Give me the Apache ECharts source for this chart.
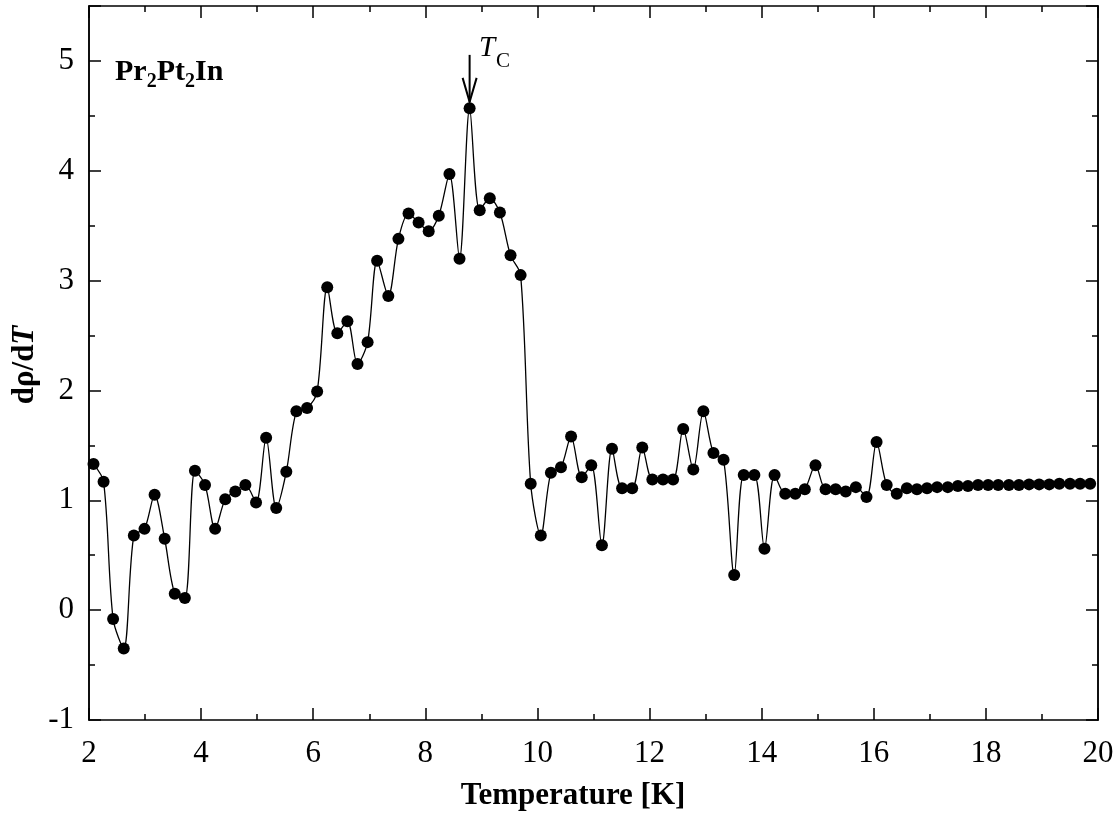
<!DOCTYPE html>
<html><head><meta charset="utf-8">
<script src="https://cdn.jsdelivr.net/npm/echarts@6/dist/echarts.min.js"></script>
<style>html,body{margin:0;padding:0;background:#fff}#c{width:1118px;height:825px}</style>
</head><body><div id="c"></div><script>
const temperature = [2.08,2.26,2.43,2.62,2.80,2.99,3.17,3.35,3.53,3.71,
  3.89,4.07,4.25,4.43,4.61,4.79,4.98,5.16,5.34,5.52,
  5.70,5.89,6.07,6.25,6.43,6.61,6.79,6.97,7.14,7.34,
  7.52,7.70,7.88,8.06,8.24,8.43,8.61,8.79,8.97,9.15,
  9.33,9.52,9.70,9.88,10.06,10.24,10.42,10.60,10.79,10.96,
  11.15,11.33,11.51,11.69,11.87,12.05,12.24,12.42,12.60,12.78,
  12.96,13.14,13.32,13.51,13.68,13.87,14.05,14.23,14.42,14.60,
  14.77,14.96,15.14,15.32,15.50,15.68,15.87,16.05,16.23,16.41,
  16.59,16.77,16.95,17.13,17.32,17.50,17.68,17.86,18.04,18.22,
  18.41,18.59,18.77,18.95,19.13,19.31,19.50,19.68,19.86];
const dRhoDT = [1.33,1.17,-0.08,-0.35,0.68,0.74,1.05,0.65,0.15,0.11,
  1.27,1.14,0.74,1.01,1.08,1.14,0.98,1.57,0.93,1.26,
  1.81,1.84,1.99,2.94,2.52,2.63,2.24,2.44,3.18,2.86,
  3.38,3.61,3.53,3.45,3.59,3.97,3.20,4.57,3.64,3.75,
  3.62,3.23,3.05,1.15,0.68,1.25,1.30,1.58,1.21,1.32,
  0.59,1.47,1.11,1.11,1.48,1.19,1.19,1.19,1.65,1.28,
  1.81,1.43,1.37,0.32,1.23,1.23,0.56,1.23,1.06,1.06,
  1.10,1.32,1.10,1.10,1.08,1.12,1.03,1.53,1.14,1.06,
  1.11,1.10,1.11,1.12,1.12,1.13,1.13,1.14,1.14,1.14,
  1.14,1.14,1.145,1.145,1.145,1.15,1.15,1.15,1.15];
// Tc arrow annotation: [temperature, arrow top, arrow tip]
const tcArrow = [[8.79, 5.055, 4.627]];

const FONT = '"Liberation Serif","Times New Roman",Times,serif';
const points = temperature.map((t, i) => [t, dRhoDT[i]]);
const axLine = {show: true, onZero: false, lineStyle: {color: '#000', width: 1.5}};

function xAx(pos, labels) {
  return {type: 'value', min: 2, max: 20, interval: 2, position: pos,
    axisLine: axLine,
    axisTick: {show: true, inside: true, length: 12, lineStyle: {color: '#000', width: 1.5}},
    minorTick: {show: true, splitNumber: 2, length: 6, lineStyle: {color: '#000', width: 1.5}},
    axisLabel: {show: labels, fontFamily: FONT, fontSize: 31, color: '#000', margin: 18},
    splitLine: {show: false}, minorSplitLine: {show: false}};
}
function yMajor(pos, labels) {
  return {type: 'value', min: -1, max: 5.5, interval: 1, position: pos, offset: 0,
    axisLine: axLine,
    axisTick: {show: true, inside: true, length: 12, lineStyle: {color: '#000', width: 1.5}},
    axisLabel: {show: labels, fontFamily: FONT, fontSize: 31, color: '#000', margin: 15,
      formatter: v => (Number.isInteger(v) ? String(v) : '')},
    splitLine: {show: false}};
}
function yMinor(pos) {
  return {type: 'value', min: -1, max: 5.5, interval: 0.5, position: pos, offset: 0,
    axisLine: axLine,
    axisTick: {show: true, inside: true, length: 6, lineStyle: {color: '#000', width: 1.5}},
    axisLabel: {show: false}, splitLine: {show: false}};
}

const chart = echarts.init(document.getElementById('c'));
chart.setOption({
  animation: false,
  backgroundColor: '#fff',
  grid: {left: 89, right: 20, top: 6, bottom: 105},
  xAxis: [xAx('bottom', true), xAx('top', false)],
  yAxis: [yMajor('left', true), yMinor('left'), yMajor('right', false), yMinor('right')],
  series: [
    {type: 'line', data: points, xAxisIndex: 0, yAxisIndex: 0,
      smooth: 0.3, symbol: 'circle', symbolSize: 12, showAllSymbol: true,
      lineStyle: {color: '#000', width: 1.3}, itemStyle: {color: '#000'}, z: 3},
    {type: 'custom', data: tcArrow, xAxisIndex: 0, yAxisIndex: 0, z: 4,
      renderItem: function (params, api) {
        const top = api.coord([api.value(0), api.value(1)]);
        const tip = api.coord([api.value(0), api.value(2)]);
        return {type: 'group', children: [
          {type: 'line', shape: {x1: top[0], y1: top[1], x2: tip[0], y2: tip[1]},
            style: {stroke: '#000', lineWidth: 2}},
          {type: 'polyline', shape: {points: [[tip[0] - 7, tip[1] - 24], [tip[0], tip[1]], [tip[0] + 7, tip[1] - 24]]},
            style: {stroke: '#000', lineWidth: 2, fill: null}}
        ]};
      }}
  ],
  graphic: [
    {type: 'text', x: 573, y: 796, style: {text: 'Temperature [K]', font: 'bold 31px ' + FONT,
      fill: '#000', align: 'center', verticalAlign: 'middle'}},
    {type: 'text', x: 25, y: 365, rotation: Math.PI / 2,
      style: {text: '{b|dρ/d}{i|T}', align: 'center', verticalAlign: 'middle', fill: '#000',
        rich: {b: {fontFamily: FONT, fontWeight: 'bold', fontSize: 31, fill: '#000'},
               i: {fontFamily: FONT, fontWeight: 'bold', fontStyle: 'italic', fontSize: 31, fill: '#000'}}}},
    {type: 'text', x: 115, y: 55,
      style: {text: '{m|Pr}{s|2}{m|Pt}{s|2}{m|In}', verticalAlign: 'top', fill: '#000',
        rich: {m: {fontFamily: FONT, fontWeight: 'bold', fontSize: 30, fill: '#000', lineHeight: 34},
               s: {fontFamily: FONT, fontWeight: 'bold', fontSize: 20, fill: '#000', lineHeight: 21, padding: [19, 0, 0, 0]}}}},
    {type: 'text', x: 479, y: 63, style: {text: 'T', font: 'italic 29px ' + FONT, fill: '#000', verticalAlign: 'bottom'}},
    {type: 'text', x: 496, y: 72, style: {text: 'C', font: '21px ' + FONT, fill: '#000', verticalAlign: 'bottom'}}
  ]
});
</script></body></html>
